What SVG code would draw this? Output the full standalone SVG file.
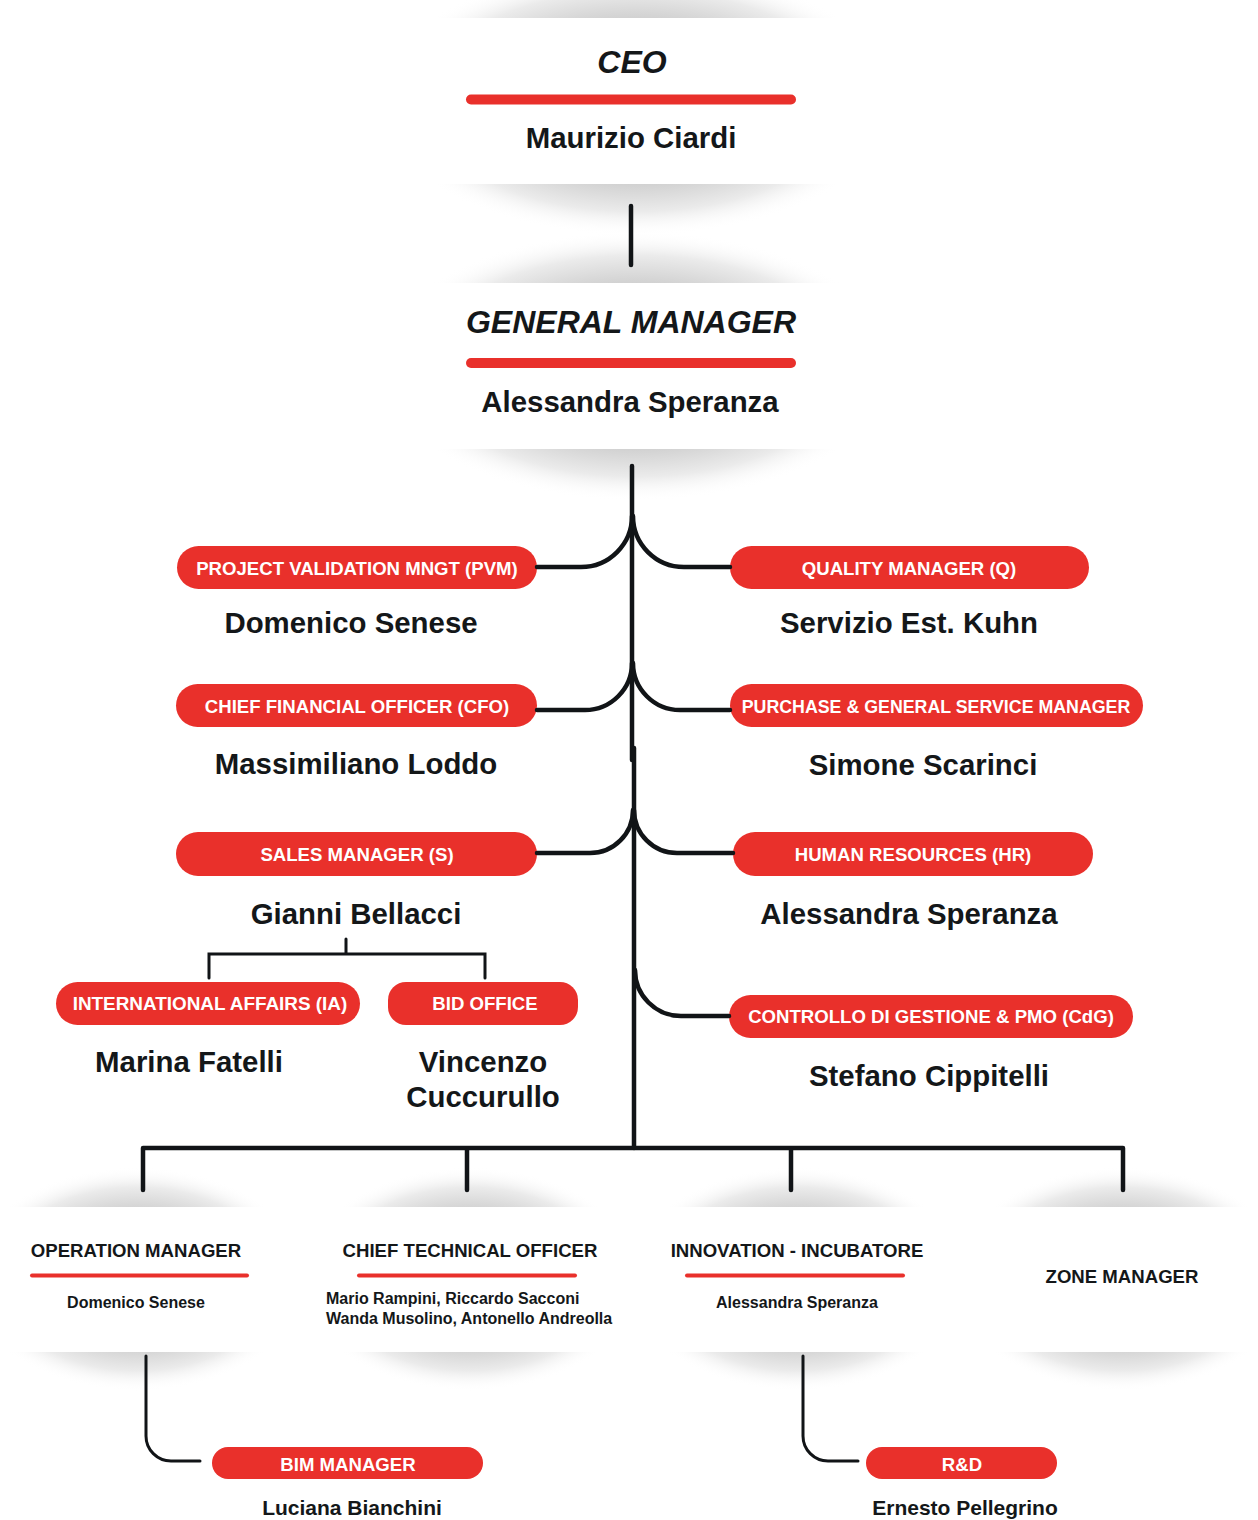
<svg xmlns="http://www.w3.org/2000/svg" width="1258" height="1520" viewBox="0 0 1258 1520">
  <defs>
    <!-- soft shadow behind the white cards -->
    <radialGradient id="shade" cx="0.5" cy="0.5" r="0.5">
      <stop offset="0" stop-color="#bdbdbd"/>
      <stop offset="0.62" stop-color="#d2d2d2"/>
      <stop offset="0.82" stop-color="#ebebeb"/>
      <stop offset="1" stop-color="#ffffff" stop-opacity="0"/>
    </radialGradient>
    <!-- keeps the shadow within the card's own width -->
    <clipPath id="cardwidth" clipPathUnits="objectBoundingBox">
      <rect x="0.1" y="0" width="0.8" height="1"/>
    </clipPath>
  </defs>
  <style>
    .card { fill: #ffffff; }
    .shadow { fill: url(#shade); clip-path: url(#cardwidth); }
    .pill { fill: #e9302b; }
    .bar { stroke: #e9302b; stroke-linecap: round; fill: none; }
    .pt { font-family: "Liberation Sans", Arial, sans-serif; font-weight: bold; font-size: 18.6px; fill: #ffffff; text-anchor: middle; }
    .title { font-family: "Liberation Sans", Arial, sans-serif; font-weight: bold; font-style: italic; font-size: 32px; fill: #141719; text-anchor: middle; }
    .name { font-family: "Liberation Sans", Arial, sans-serif; font-weight: bold; font-size: 29.4px; fill: #141719; text-anchor: middle; }
    .sub { font-family: "Liberation Sans", Arial, sans-serif; font-weight: bold; font-size: 18.6px; fill: #141719; text-anchor: middle; }
    .small { font-family: "Liberation Sans", Arial, sans-serif; font-weight: bold; font-size: 16px; fill: #141719; }
    .mid { font-family: "Liberation Sans", Arial, sans-serif; font-weight: bold; font-size: 21px; fill: #141719; text-anchor: middle; }
    .line { stroke: #111417; fill: none; stroke-linecap: round; }
  </style>

  <rect width="1258" height="1520" fill="#ffffff"/>

  <!-- top cards -->
  <g id="ceo">
    <ellipse class="shadow" cx="636.5" cy="101" rx="260.6" ry="135"/>
    <rect class="card" x="428" y="18" width="417" height="166"/>
    <text class="title" x="632" y="73">CEO</text>
    <line class="bar" x1="471" y1="99.5" x2="791" y2="99.5" stroke-width="10"/>
    <text class="name" x="631" y="148">Maurizio Ciardi</text>
  </g>

  <g id="general-manager">
    <ellipse class="shadow" cx="636.5" cy="366" rx="260.6" ry="135"/>
    <rect class="card" x="428" y="283" width="417" height="166"/>
    <text class="title" x="631" y="333">GENERAL MANAGER</text>
    <line class="bar" x1="471" y1="363" x2="791" y2="363" stroke-width="10"/>
    <text class="name" x="630" y="412">Alessandra Speranza</text>
  </g>

  <!-- staff functions -->
  <g id="pvm">
    <rect class="pill" x="177" y="546" width="360" height="43" rx="21.5"/>
    <text class="pt" x="357" y="575">PROJECT VALIDATION MNGT (PVM)</text>
    <text class="name" x="351" y="633">Domenico Senese</text>
  </g>
  <g id="quality">
    <rect class="pill" x="730" y="546" width="359" height="43" rx="21.5"/>
    <text class="pt" x="909" y="575">QUALITY MANAGER (Q)</text>
    <text class="name" x="909" y="633">Servizio Est. Kuhn</text>
  </g>
  <g id="cfo">
    <rect class="pill" x="176" y="684" width="361" height="43" rx="21.5"/>
    <text class="pt" x="357" y="713">CHIEF FINANCIAL OFFICER (CFO)</text>
    <text class="name" x="356" y="774">Massimiliano Loddo</text>
  </g>
  <g id="purchase">
    <rect class="pill" x="730" y="684" width="413" height="43" rx="21.5"/>
    <text class="pt" x="936" y="713" style="font-size:17.8px">PURCHASE &amp; GENERAL SERVICE MANAGER</text>
    <text class="name" x="923" y="775">Simone Scarinci</text>
  </g>
  <g id="sales">
    <rect class="pill" x="176" y="832" width="361" height="44" rx="22"/>
    <text class="pt" x="357" y="861">SALES MANAGER (S)</text>
    <text class="name" x="356" y="924">Gianni Bellacci</text>
  </g>
  <g id="hr">
    <rect class="pill" x="733" y="832" width="360" height="44" rx="22"/>
    <text class="pt" x="913" y="861">HUMAN RESOURCES (HR)</text>
    <text class="name" x="909" y="924">Alessandra Speranza</text>
  </g>
  <g id="international-affairs">
    <rect class="pill" x="56" y="982" width="304" height="43" rx="21.5"/>
    <text class="pt" x="210" y="1010" style="font-size:18.9px">INTERNATIONAL AFFAIRS (IA)</text>
    <text class="name" x="189" y="1072">Marina Fatelli</text>
  </g>
  <g id="bid-office">
    <rect class="pill" x="388" y="982" width="190" height="43" rx="18"/>
    <text class="pt" x="485" y="1010">BID OFFICE</text>
    <text class="name" x="483" y="1072">Vincenzo</text>
    <text class="name" x="483" y="1107">Cuccurullo</text>
  </g>
  <g id="cdg">
    <rect class="pill" x="729" y="995" width="404" height="43" rx="21.5"/>
    <text class="pt" x="931" y="1023">CONTROLLO DI GESTIONE &amp; PMO (CdG)</text>
    <text class="name" x="929" y="1086">Stefano Cippitelli</text>
  </g>

  <!-- bottom row cards -->
  <g id="operation-manager">
    <ellipse class="shadow" cx="137" cy="1279" rx="171" ry="112"/>
    <rect class="card" x="0" y="1207" width="274" height="145"/>
    <text class="sub" x="136" y="1257">OPERATION MANAGER</text>
    <line class="bar" x1="32" y1="1275.5" x2="247" y2="1275.5" stroke-width="4"/>
    <text class="small" x="136" y="1308" text-anchor="middle">Domenico Senese</text>
  </g>
  <g id="cto">
    <ellipse class="shadow" cx="470" cy="1279" rx="171" ry="112"/>
    <rect class="card" x="333" y="1207" width="274" height="145"/>
    <text class="sub" x="470" y="1257">CHIEF TECHNICAL OFFICER</text>
    <line class="bar" x1="359" y1="1275.5" x2="575" y2="1275.5" stroke-width="4"/>
    <text class="small" x="326" y="1304">Mario Rampini, Riccardo Sacconi</text>
    <text class="small" x="326" y="1324">Wanda Musolino, Antonello Andreolla</text>
  </g>
  <g id="innovation">
    <ellipse class="shadow" cx="797" cy="1279" rx="171" ry="112"/>
    <rect class="card" x="660" y="1207" width="274" height="145"/>
    <text class="sub" x="797" y="1257">INNOVATION - INCUBATORE</text>
    <line class="bar" x1="687" y1="1275.5" x2="903" y2="1275.5" stroke-width="4"/>
    <text class="small" x="797" y="1308" text-anchor="middle">Alessandra Speranza</text>
  </g>
  <g id="zone-manager">
    <ellipse class="shadow" cx="1121.5" cy="1279" rx="170.6" ry="112"/>
    <rect class="card" x="985" y="1207" width="273" height="145"/>
    <text class="sub" x="1122" y="1283">ZONE MANAGER</text>
  </g>

  <g id="bim-manager">
    <rect class="pill" x="212" y="1447" width="271" height="32" rx="16"/>
    <text class="pt" x="348" y="1471">BIM MANAGER</text>
    <text class="mid" x="352" y="1515">Luciana Bianchini</text>
  </g>
  <g id="rnd">
    <rect class="pill" x="866" y="1447" width="191" height="32" rx="16"/>
    <text class="pt" x="962" y="1471">R&amp;D</text>
    <text class="mid" x="965" y="1515">Ernesto Pellegrino</text>
  </g>

  <!-- connectors, drawn over the card shadows -->
  <g id="connectors">
    <line class="line" x1="631" y1="206" x2="631" y2="265" stroke-width="4.5"/>
    <line class="line" x1="632" y1="466" x2="632" y2="760" stroke-width="4.5"/>
    <line class="line" x1="634" y1="748" x2="634" y2="1148" stroke-width="4.5" stroke-linecap="butt"/>
    <!-- branches off the trunk -->
    <path class="line" stroke-width="4.5" d="M537,567 H581 A51,51 0 0 0 632,516"/>
    <path class="line" stroke-width="4.5" d="M633,516 A51,51 0 0 0 684,567 H730"/>
    <path class="line" stroke-width="4.5" d="M537,710 H585 A47,47 0 0 0 632,663"/>
    <path class="line" stroke-width="4.5" d="M633,663 A47,47 0 0 0 680,710 H730"/>
    <path class="line" stroke-width="4.5" d="M537,853 H590 A43,43 0 0 0 633,810"/>
    <path class="line" stroke-width="4.5" d="M634,810 A43,43 0 0 0 677,853 H733"/>
    <path class="line" stroke-width="4.5" d="M635,970 A46,46 0 0 0 681,1016 H729"/>
    <!-- sales sub-bracket -->
    <path class="line" stroke-width="3" stroke-linecap="butt" d="M346,939 V954 M209,978 V954 H485 V978"/>
    <!-- bottom bus -->
    <path class="line" stroke-width="4.5" stroke-linejoin="round" d="M143,1190 V1148 H1123 V1190 M467,1148 V1190 M791,1148 V1190"/>
    <!-- second-level links -->
    <path class="line" stroke-width="3" d="M146,1356 V1436 A25,25 0 0 0 171,1461 H200"/>
    <path class="line" stroke-width="3" d="M803,1356 V1436 A25,25 0 0 0 828,1461 H858"/>
  </g>
</svg>
